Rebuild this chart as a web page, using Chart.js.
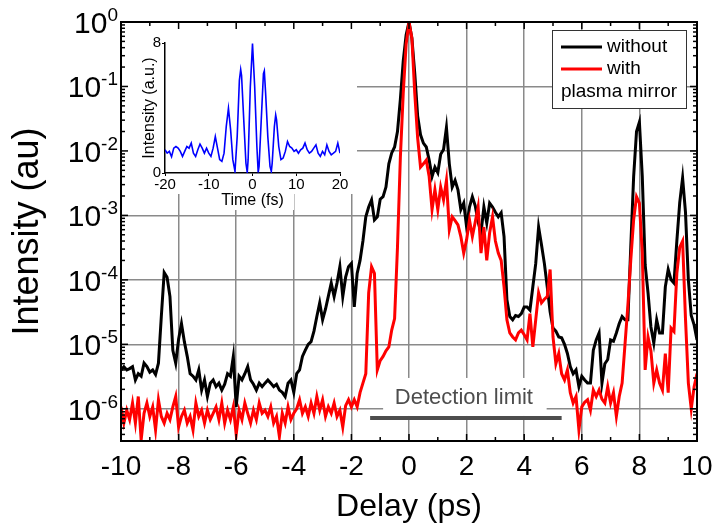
<!DOCTYPE html>
<html><head><meta charset="utf-8">
<script src="https://cdn.jsdelivr.net/npm/chart.js@4.4.1/dist/chart.umd.min.js"></script>
<style>
html,body{margin:0;padding:0;background:#fff;}
#wrap{position:relative;width:712px;height:528px;overflow:hidden;}
#main{position:absolute;left:0;top:0;}
#inset{position:absolute;left:121px;top:22px;}
</style></head><body>
<div id="wrap"><canvas id="main" width="712" height="528"></canvas><canvas id="inset" width="236" height="190"></canvas></div>
<script>
const FONT = "'Liberation Sans', Arial, sans-serif";

// Delay (ps)
const delayPs = [-10,-9.9,-9.8,-9.7,-9.6,-9.5,-9.4,-9.3,-9.2,-9.1,-9,-8.9,-8.8,-8.7,-8.6,-8.5,-8.4,-8.3,-8.2,-8.1,
-8,-7.9,-7.8,-7.7,-7.6,-7.5,-7.4,-7.3,-7.2,-7.1,-7,-6.9,-6.8,-6.7,-6.6,-6.5,-6.4,-6.3,-6.2,-6.1,
-6,-5.9,-5.8,-5.7,-5.6,-5.5,-5.4,-5.3,-5.2,-5.1,-5,-4.9,-4.8,-4.7,-4.6,-4.5,-4.4,-4.3,-4.2,-4.1,
-4,-3.9,-3.8,-3.7,-3.6,-3.5,-3.4,-3.3,-3.2,-3.1,-3,-2.9,-2.8,-2.7,-2.6,-2.5,-2.4,-2.3,-2.2,-2.1,
-2,-1.9,-1.8,-1.7,-1.6,-1.5,-1.4,-1.3,-1.2,-1.1,-1,-0.9,-0.8,-0.7,-0.6,-0.5,-0.4,-0.3,-0.2,-0.1,
0,
0.1,0.2,0.3,0.4,0.5,0.6,0.7,0.8,0.9,1,1.1,1.2,1.3,1.4,1.5,1.6,1.7,1.8,1.9,2,
2.1,2.2,2.3,2.4,2.5,2.6,2.7,2.8,2.9,3,3.1,3.2,3.3,3.4,3.5,3.6,3.7,3.8,3.9,4,
4.1,4.2,4.3,4.4,4.5,4.6,4.7,4.8,4.9,5,5.1,5.2,5.3,5.4,5.5,5.6,5.7,5.8,5.9,6,
6.1,6.2,6.3,6.4,6.5,6.6,6.7,6.8,6.9,7,7.1,7.2,7.3,7.4,7.5,7.6,7.7,7.8,7.9,8,
8.1,8.2,8.3,8.4,8.5,8.6,8.7,8.8,8.9,9,9.1,9.2,9.3,9.4,9.5,9.6,9.7,9.8,9.9,10];

// Intensity without plasma mirror (au)
const withoutPM = [
4.0e-6,4.5e-6,4.0e-6,4.2e-6,4.5e-6,2.8e-6,3.5e-6,3.2e-6,5.1e-6,4.5e-6,
3.7e-6,4.0e-6,3.4e-6,5.1e-6,2.7e-5,1.3e-4,1.1e-4,5.5e-5,8.1e-6,5.1e-6,
1.2e-5,2.1e-5,1.1e-5,6.5e-6,3.5e-6,3.2e-6,2.8e-6,4.0e-6,1.95e-6,2.8e-6,
1.55e-6,2.5e-6,2.8e-6,2.2e-6,2.5e-6,1.95e-6,2.4e-6,3.5e-6,3.2e-6,6.5e-6,
1.07e-6,3.2e-6,2.8e-6,3.5e-6,4.5e-6,2.8e-6,2.4e-6,1.95e-6,2.5e-6,2.2e-6,
2.5e-6,2.8e-6,2.5e-6,2.2e-6,2.4e-6,1.95e-6,1.8e-6,1.55e-6,2.5e-6,2.8e-6,
1.8e-6,3.5e-6,4.0e-6,6.5e-6,8.1e-6,1.0e-5,1.1e-5,1.6e-5,2.7e-5,4.4e-5,
2.4e-5,3.5e-5,5.6e-5,8.9e-5,5.5e-5,8.9e-5,1.6e-4,5.5e-5,1.1e-4,1.6e-4,
1.8e-4,3.8e-5,1.26e-4,2.0e-4,4.0e-4,9.5e-4,1.35e-3,1.74e-3,8.5e-4,9.5e-4,
1.78e-3,1.95e-3,2.75e-3,6.3e-3,9.3e-3,1.15e-2,2.0e-2,6.3e-2,0.25,0.63,
1.0,
0.56,0.16,3.5e-2,1.78e-2,1.32e-2,1.15e-2,7.2e-3,4.0e-3,5.6e-3,4.6e-3,
8.9e-3,1.05e-2,2.3e-2,6.3e-3,2.75e-3,3.5e-3,2.5e-3,1.23e-3,1.55e-3,6.6e-4,
1.35e-3,1.95e-3,1.41e-3,7.9e-4,5.4e-4,1.35e-3,7.6e-4,1.55e-3,1.35e-3,1.12e-3,
9.5e-4,1.1e-3,4.7e-4,4.9e-5,2.7e-5,2.4e-5,2.8e-5,2.7e-5,3.0e-5,3.8e-5,
3.8e-5,3.4e-5,7.8e-5,1.78e-4,6.6e-4,3.5e-4,1.8e-4,7.8e-5,3.2e-5,1.78e-5,
1.6e-5,1.3e-5,1.26e-5,1.0e-5,7.2e-6,4.5e-6,3.5e-6,4.0e-6,2.2e-6,3.2e-6,
2.8e-6,2.5e-6,2.5e-6,8.1e-6,1.17e-5,1.5e-5,2.5e-6,5.0e-6,5.8e-6,1.17e-5,
1.12e-5,1.5e-5,2.1e-5,2.7e-5,2.4e-5,2.4e-5,3.2e-4,4.0e-3,2.0e-2,2.8e-2,
4.0e-3,1.7e-4,6.3e-5,1.86e-5,1.05e-5,2.4e-5,1.5e-5,1.5e-5,7.8e-5,1.45e-4,
1.0e-4,8.9e-5,4.0e-4,1.58e-3,3.8e-3,1.12e-3,1.0e-4,2.8e-5,2.0e-5,1.17e-5];

// Intensity with plasma mirror (au)
const withPM = [
1.07e-6,6.0e-7,9.5e-7,6.8e-7,1.23e-6,6.0e-7,1.55e-6,3.3e-7,8.5e-7,1.23e-6,
7.6e-7,1.07e-6,4.7e-7,1.38e-6,7.6e-7,6.0e-7,8.5e-7,6.8e-7,1.07e-6,1.55e-6,
5.2e-7,7.6e-7,9.5e-7,6.0e-7,7.6e-7,4.7e-7,1.23e-6,7.6e-7,9.5e-7,6.0e-7,
9.5e-7,6.8e-7,8.5e-7,1.07e-6,6.8e-7,1.23e-6,6.0e-7,9.5e-7,6.8e-7,1.07e-6,
4.0e-7,9.5e-7,6.8e-7,1.23e-6,8.5e-7,6.0e-7,9.5e-7,6.8e-7,1.23e-6,8.5e-7,
9.5e-7,7.6e-7,1.07e-6,6.0e-7,7.6e-7,3.7e-7,8.5e-7,6.0e-7,1.07e-6,6.8e-7,
8.5e-7,1.0e-6,1.38e-6,8.5e-7,1.07e-6,7.6e-7,1.23e-6,8.5e-7,1.55e-6,9.5e-7,
1.38e-6,7.6e-7,1.07e-6,8.5e-7,1.23e-6,7.6e-7,9.5e-7,5.2e-7,1.12e-6,1.38e-6,
1.07e-6,1.38e-6,1.07e-6,1.78e-6,2.5e-6,3.5e-6,6.3e-5,1.6e-4,1.26e-4,4.0e-6,
5.6e-6,6.5e-6,7.9e-6,9.1e-6,1.66e-5,2.5e-5,3.2e-4,7.9e-3,7.9e-2,0.45,
1.0,
0.56,7.9e-2,1.6e-2,5.6e-3,6.3e-3,7.2e-3,4.0e-3,1.23e-3,2.5e-3,1.23e-3,
2.75e-3,1.74e-3,3.5e-3,6.0e-4,9.5e-4,8.3e-4,7.1e-4,4.7e-4,2.6e-4,4.2e-4,
8.5e-4,4.7e-4,7.9e-4,1.35e-3,2.6e-4,6.6e-4,2.0e-4,5.4e-4,9.5e-4,4.0e-4,
2.6e-4,2.0e-4,7.8e-5,2.4e-5,1.5e-5,1.3e-5,1.17e-5,1.5e-5,1.66e-5,1.41e-5,
1.17e-5,3.0e-5,9.1e-6,2.4e-5,6.3e-5,4.4e-5,5.0e-5,5.5e-5,1.45e-4,1.3e-5,
5.0e-6,7.2e-6,3.5e-6,2.8e-6,4.0e-6,1.78e-6,1.23e-6,1.55e-6,4.7e-7,1.07e-6,
1.26e-6,1.38e-6,9.5e-7,1.95e-6,1.55e-6,1.95e-6,1.41e-6,1.23e-6,2.2e-6,1.23e-6,
1.78e-6,7.6e-7,1.55e-6,2.5e-6,1.0e-5,4.0e-5,2.0e-4,8.5e-4,1.95e-3,1.55e-3,
2.6e-4,4.0e-6,1.3e-5,7.9e-6,2.5e-6,4.0e-6,2.5e-6,1.95e-6,7.2e-6,1.78e-6,
1.78e-5,1.58e-5,1.26e-4,3.2e-4,4.0e-4,2.5e-5,2.5e-6,1.0e-6,2.2e-6,3.5e-6];

// Inset: autocorrelation trace
const insetTimeFs = [-20,-19.5,-19,-18.5,-18,-17.5,-17,-16.5,-16,-15.5,-15,-14.5,-14,-13.5,-13,-12.5,-12,-11.5,-11,-10.5,
-10,-9.5,-9,-8.5,-8,-7.5,-7,-6.5,-6,-5.5,-5,-4.5,-4,-3.5,-3,
-2.7,-2.5,-2,-1.5,-1.2,-1,-0.5,0,0.5,1,1.3,1.5,2,2.5,2.7,3,3.5,4,4.3,4.5,5,5.3,5.5,
6,6.5,7,7.5,8,8.5,9,9.5,10,10.5,11,11.5,12,12.5,13,13.5,14,14.5,15,15.5,16,16.5,17,17.5,18,18.5,19,19.5,20];
const insetIntensity = [1.43,1.22,1.33,1.0,1.53,1.63,1.53,1.33,1.02,1.33,1.63,1.53,1.84,1.22,1.02,1.43,1.78,1.53,1.22,1.53,
1.22,1.02,1.53,2.24,1.53,0.82,0.71,1.22,2.86,3.98,2.65,0.82,0.10,2.24,5.71,
6.37,6.0,3.27,0.6,0.04,0.82,5.3,7.96,5.3,1.63,0.04,0.41,3.27,6.12,6.29,4.9,2.24,0.41,0.10,0.61,2.86,3.57,3.27,
1.63,0.82,0.92,1.33,1.94,1.63,1.53,1.33,1.43,1.22,1.43,1.53,1.84,1.43,1.22,1.33,1.53,1.73,1.22,1.02,1.33,1.12,1.73,1.33,1.12,1.22,1.33,1.84,1.22];

const yDecadeExponents = [0,-1,-2,-3,-4,-5,-6];
const yAxisMin = 3.1623e-7;   // 10^-6.5
const yAxisMax = 1;
const detectionLimitRange = [-1.35, 5.3];   // ps
const detectionLimitLevel = 7.2e-7;          // au
const seriesLabels = ['without', 'with'];

function isDecade(v){ const l=Math.log10(v); return Math.abs(l-Math.round(l))<1e-6; }

const decor = {
  id: 'decor',
  beforeDatasetsDraw(chart) {
    const {ctx, chartArea: a, scales: {x, y}} = chart;
    ctx.save();
    ctx.fillStyle = '#ffffff';
    ctx.fillRect(a.left + 1, a.top + 1, 235, 171);
    ctx.fillRect(214, 193, 80, 17);
    const x0 = x.getPixelForValue(detectionLimitRange[0]);
    const x1 = x.getPixelForValue(detectionLimitRange[1]);
    const yl = y.getPixelForValue(detectionLimitLevel);
    ctx.fillRect(x0 + 13, yl - 40, x1 - x0 - 28, 38);
    ctx.restore();
  },
  afterDraw(chart) {
    const {ctx, chartArea: a, scales: {x, y}} = chart;
    ctx.save();
    const line = (x1,y1,x2,y2)=>{ctx.beginPath();ctx.moveTo(x1,y1);ctx.lineTo(x2,y2);ctx.stroke();};
    // detection limit
    const x0 = x.getPixelForValue(detectionLimitRange[0]);
    const x1 = x.getPixelForValue(detectionLimitRange[1]);
    const yl = y.getPixelForValue(detectionLimitLevel);
    ctx.strokeStyle = '#4d4d4d'; ctx.lineWidth = 4;
    line(x0, yl, x1, yl);
    ctx.fillStyle = '#4d4d4d'; ctx.font = '22px ' + FONT;
    ctx.textAlign = 'center'; ctx.textBaseline = 'middle';
    ctx.fillText('Detection limit', (x0 + x1) / 2 - 2, yl - 20);
    // frame
    ctx.strokeStyle = '#000'; ctx.lineWidth = 2;
    ctx.strokeRect(a.left, a.top, a.right - a.left, a.bottom - a.top);
    // inward ticks
    ctx.lineWidth = 1.5;
    for (let v = -10; v <= 10; v++) {
      const px = x.getPixelForValue(v);
      const L = (v % 2 === 0) ? 7 : 4;
      line(px, a.bottom, px, a.bottom - L);
      line(px, a.top, px, a.top + L);
    }
    for (let k = -7; k <= 0; k++) {
      for (let m = 1; m <= 9; m++) {
        const v = m * Math.pow(10, k);
        if (v < yAxisMin || v > yAxisMax * 1.0001) continue;
        const py = y.getPixelForValue(v);
        const L = m === 1 ? 7 : 4;
        line(a.left, py, a.left + L, py);
        line(a.right, py, a.right - L, py);
      }
    }
    // y tick labels 10^n
    ctx.fillStyle = '#000'; ctx.textAlign = 'left'; ctx.textBaseline = 'alphabetic';
    for (const e of yDecadeExponents) {
      const py = y.getPixelForValue(Math.pow(10, e));
      const expTxt = e === 0 ? '0' : '-' + (-e);
      ctx.font = '19px ' + FONT;
      const ew = ctx.measureText(expTxt).width;
      const right = 118;
      ctx.fillText(expTxt, right - ew, py - 1);
      ctx.font = '30px ' + FONT;
      const bw = ctx.measureText('10').width;
      ctx.fillText('10', right - ew - bw, py + 11);
    }
    // legend
    ctx.fillStyle = '#fff'; ctx.fillRect(552, 30, 134, 78);
    ctx.strokeStyle = '#333'; ctx.lineWidth = 1; ctx.strokeRect(552.5, 30.5, 134, 78);
    ctx.lineWidth = 3;
    ctx.strokeStyle = '#000'; line(561, 47, 602, 47);
    ctx.strokeStyle = '#ff0000'; line(561, 69, 602, 69);
    ctx.fillStyle = '#000'; ctx.font = '19px ' + FONT; ctx.textBaseline = 'middle'; ctx.textAlign = 'left';
    ctx.fillText(seriesLabels[0], 607, 47);
    ctx.fillText(seriesLabels[1], 607, 69);
    ctx.fillText('plasma mirror', 561, 92);
    ctx.restore();
  }
};

new Chart(document.getElementById('main'), {
  type: 'line',
  data: {
    datasets: [
      { label: seriesLabels[0], data: delayPs.map((d,i)=>({x:d, y:withoutPM[i]})), borderColor: '#000000', borderWidth: 3, pointRadius: 0, tension: 0, order: 1 },
      { label: seriesLabels[1], data: delayPs.map((d,i)=>({x:d, y:withPM[i]})), borderColor: '#ff0000', borderWidth: 3, pointRadius: 0, tension: 0, order: 0 }
    ]
  },
  options: {
    responsive: false, devicePixelRatio: 1, animation: false,
    layout: { padding: { top: 22, right: 15, left: 0, bottom: 0 } },
    plugins: { legend: { display: false }, tooltip: { enabled: false } },
    scales: {
      x: {
        type: 'linear', min: -10, max: 10,
        afterFit(s) { s.height = 87; s.paddingLeft = 0; s.paddingRight = 0; },
        ticks: { stepSize: 2, font: { size: 28, family: FONT }, color: '#000', padding: 9, maxRotation: 0, autoSkip: false },
        grid: { color: c => (c.tick && Math.abs(c.tick.value) < 9.9) ? '#8a8a8a' : 'rgba(0,0,0,0)', lineWidth: 1.5, drawTicks: false },
        border: { display: false },
        title: { display: true, text: 'Delay (ps)', font: { size: 32, family: FONT }, color: '#000', padding: { top: 0, bottom: 2 } }
      },
      y: {
        type: 'logarithmic', min: yAxisMin, max: yAxisMax,
        afterFit(s) { s.width = 121; s.paddingTop = 0; s.paddingBottom = 0; },
        ticks: { display: false },
        grid: { color: c => (c.tick && isDecade(c.tick.value) && c.tick.value < 0.99) ? '#8a8a8a' : 'rgba(0,0,0,0)', lineWidth: 1.5, drawTicks: false },
        border: { display: false },
        title: { display: true, text: 'Intensity (au)', font: { size: 36, family: FONT }, color: '#000', padding: { top: 6, bottom: 0 } }
      }
    }
  },
  plugins: [decor]
});

new Chart(document.getElementById('inset'), {
  type: 'line',
  data: { datasets: [{ data: insetTimeFs.map((t,i)=>({x:t, y:insetIntensity[i]})), borderColor: '#0000ff', borderWidth: 1.6, pointRadius: 0, tension: 0 }] },
  options: {
    responsive: false, devicePixelRatio: 1, animation: false,
    layout: { padding: { top: 21, right: 17, left: 0, bottom: 0 } },
    plugins: { legend: { display: false }, tooltip: { enabled: false } },
    scales: {
      x: {
        type: 'linear', min: -20, max: 20,
        afterFit(s) { s.height = 39; s.paddingLeft = 0; s.paddingRight = 0; },
        ticks: { stepSize: 10, font: { size: 15, family: FONT }, color: '#000', padding: 0, maxRotation: 0, autoSkip: false },
        grid: { drawOnChartArea: false, tickLength: 3, color: '#000', lineWidth: 1 },
        border: { color: '#000', width: 1.5 },
        title: { display: true, text: 'Time (fs)', font: { size: 16, family: FONT }, color: '#000', padding: { top: 0, bottom: 2 } }
      },
      y: {
        type: 'linear', min: 0, max: 8,
        afterFit(s) { s.width = 44; s.paddingTop = 0; s.paddingBottom = 0; },
        ticks: { stepSize: 8, font: { size: 15, family: FONT }, color: '#000', padding: 1 },
        grid: { drawOnChartArea: false, tickLength: 3, color: '#000', lineWidth: 1 },
        border: { color: '#000', width: 1.5 },
        title: { display: true, text: 'Intensity (a.u.)', font: { size: 16, family: FONT }, color: '#000', padding: { top: 19, bottom: 0 } }
      }
    }
  }
});
</script>
</body></html>
